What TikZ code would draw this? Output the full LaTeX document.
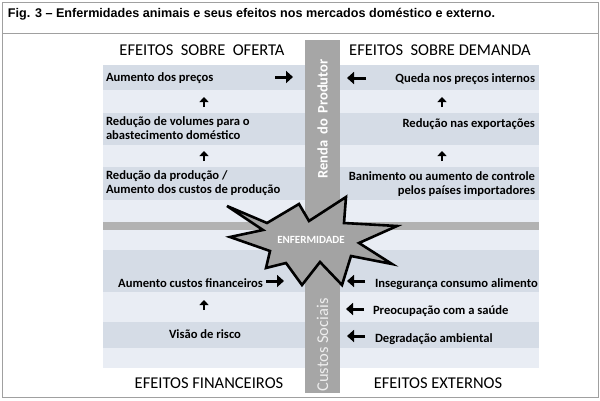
\documentclass[tikz,border=0pt]{standalone}
\usepackage{fontspec}
\setmainfont{Carlito}
\newfontfamily\arialfont{Liberation Sans}
\usetikzlibrary{arrows.meta}

\definecolor{rowdark}{HTML}{D5DCE6}
\definecolor{rowlight}{HTML}{E9EDF4}
\definecolor{bargray}{HTML}{A6A6A6}
\definecolor{hbargray}{HTML}{B2B2B2}
\definecolor{stargray}{HTML}{A3A3A3}
\definecolor{framegray}{HTML}{A0A0A0}

\begin{document}
\begin{tikzpicture}[x=1pt,y=-1pt,
  every node/.style={inner sep=0pt, outer sep=0pt},
  rowtext/.style={font=\fontsize{12.6}{14}\selectfont\bfseries, text=black},
  header/.style={font=\fontsize{16.5}{18}\selectfont, text=black},
  arrh/.style={-{Triangle[length=7pt,width=12pt]}, line width=3pt},
  arrv/.style={-{Triangle[length=5pt,width=9pt]}, line width=2.4pt},
  bartext/.style={rotate=90, text=white},
]
\useasboundingbox (0,0) rectangle (600,400);
\fill[white] (0,0) rectangle (600,400);
\draw[framegray, line width=0.8pt] (2,2) rectangle (598,397);
\draw[framegray, line width=0.8pt] (2,33) -- (598,33);

\node[anchor=west, font=\arialfont\bfseries\fontsize{12.6}{14}\selectfont] (title) at (8,14)
  {Fig. 3 – Enfermidades animais e seus efeitos nos mercados doméstico e externo.};

% rows
\fill[rowdark]  (103,65)  rectangle (539,90);
\fill[rowlight] (103,90)  rectangle (539,113);
\fill[rowdark]  (103,113) rectangle (539,145);
\fill[rowlight] (103,145) rectangle (539,167);
\fill[rowdark]  (103,167) rectangle (539,200);
\fill[rowlight] (103,200) rectangle (539,222);
\fill[hbargray] (103,222) rectangle (539,230);
\fill[rowlight] (103,230) rectangle (539,250);
\fill[rowdark]  (103,250) rectangle (539,292);
\fill[rowlight] (103,292) rectangle (539,322);
\fill[rowdark]  (103,322) rectangle (539,348);
\fill[rowlight] (103,348) rectangle (539,368);

% vertical bar
\fill[bargray] (305,40) rectangle (340,393);
\node[bartext, font=\fontsize{14.5}{16}\selectfont\bfseries] (renda) at (322.5,119) {Renda\ \,do\ \,Produtor};
\node[bartext, font=\fontsize{16.5}{18}\selectfont, text=white!93!black] (custos) at (322.5,345) {Custos Sociais};

% headers
\node[header] (hof) at (202,50) {EFEITOS\ \ SOBRE\ \ OFERTA};
\node[header] (hdem) at (440,50) {EFEITOS\ \ SOBRE DEMANDA};
\node[header] (hfin) at (209,383) {EFEITOS FINANCEIROS};
\node[header] (hext) at (438,383) {EFEITOS EXTERNOS};

% left texts
\node[rowtext, anchor=west] (t1) at (106,78) {Aumento dos preços};
\node[rowtext, anchor=west, align=left] (t2) at (106,128.5) {Redução de volumes para o\\abastecimento doméstico};
\node[rowtext, anchor=west, align=left] (t3) at (106,183) {Redução da produção /\\Aumento dos custos de produção};
\node[rowtext, anchor=east] (t4) at (263,283) {Aumento custos financeiros};
\node[rowtext] (t5) at (205,334) {Visão de risco};

% right texts
\node[rowtext, anchor=east] (r1) at (535,79) {Queda nos preços internos};
\node[rowtext, anchor=east] (r2) at (535,124) {Redução nas exportações};
\node[rowtext, anchor=east, align=right] (r3) at (535,184) {Banimento ou aumento de controle\\pelos países importadores};
\node[rowtext, anchor=west] (r4) at (375,284) {Insegurança consumo alimento};
\node[rowtext, anchor=west] (r5) at (373,311) {Preocupação com a saúde};
\node[rowtext, anchor=west] (r6) at (375,339) {Degradação ambiental};

% arrows left
\draw[arrh] (275,77) -- (293,77);
\draw[arrv] (204,107) -- (204,97);
\draw[arrv] (204,161) -- (204,151);
\draw[arrh] (266,281) -- (284,281);
\draw[arrv] (204,310) -- (204,300);
% arrows right
\draw[arrh] (366,78) -- (347,78);
\draw[arrv] (442,107) -- (442,97);
\draw[arrv] (442,161) -- (442,151);
\draw[arrh] (365,281) -- (347,281);
\draw[arrh] (364,309) -- (346,309);
\draw[arrh] (365,336) -- (347,336);

% star
\draw[fill=stargray, line width=2.6pt, line join=miter, miter limit=6]
  (227,206) -- (267,223) -- (299,204) -- (309,221) -- (346,197) -- (344,223)
  -- (397,226) -- (359,243) -- (392,264) -- (351,256) -- (342,285) -- (320,262)
  -- (302,285) -- (286,263) -- (266,268) -- (270,251) -- (230,237) -- (263,230) -- cycle;
\node[text=white, font=\fontsize{11}{13}\selectfont\bfseries] (enf) at (311,240) {ENFERMIDADE};
\end{tikzpicture}
\end{document}
